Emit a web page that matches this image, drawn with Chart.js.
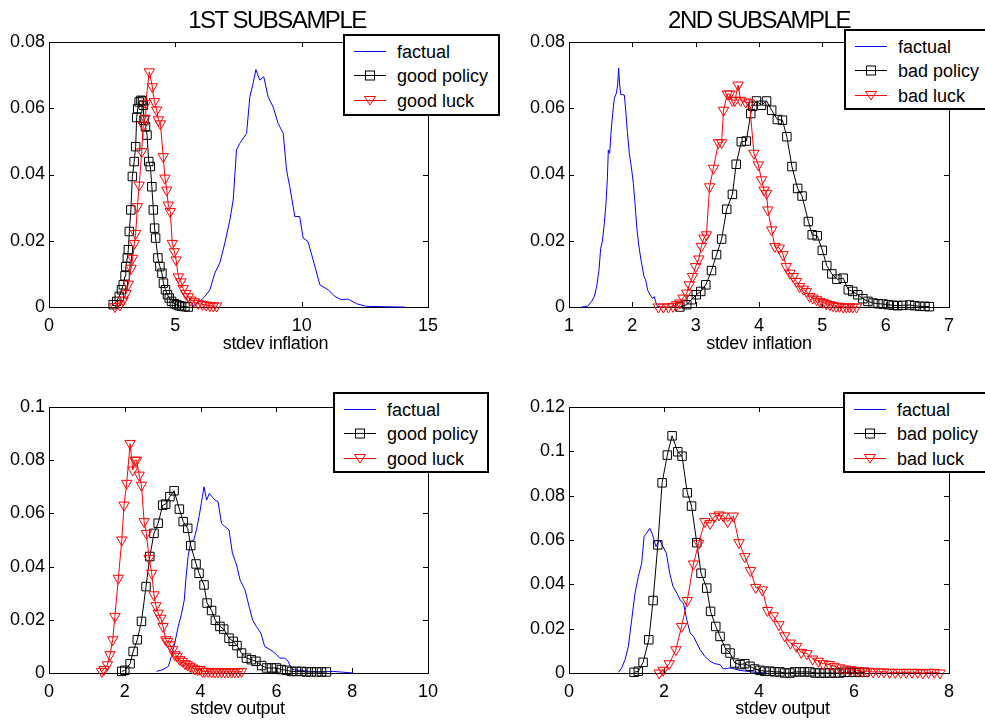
<!DOCTYPE html>
<html>
<head>
<meta charset="utf-8">
<script src="https://cdn.jsdelivr.net/npm/chart.js@4.4.1/dist/chart.umd.min.js"></script>
<style>
  body { margin: 0; background: #fff; }
  #wrap { position: relative; width: 985px; height: 724px; overflow: hidden; background: #fff;
          font-family: "Liberation Sans", Arial, sans-serif; color: #000; }
  #wrap canvas { position: absolute; }
  .title { position: absolute; width: 300px; text-align: center; font-size: 24px; line-height: 28px; letter-spacing: -1.5px; white-space: nowrap; }
  .xlabel { position: absolute; width: 200px; text-align: center; font-size: 18px; line-height: 22px; letter-spacing: -0.3px; white-space: nowrap; }
  .legend { position: absolute; background: #fff; border: 2px solid #000; box-sizing: border-box; z-index: 2; }
  .legend .row { position: absolute; left: 0; height: 25px; line-height: 25px; font-size: 18px; white-space: nowrap; }
  .legend svg { position: absolute; left: 9px; top: 0; }
  .legend span { position: absolute; left: 52px; top: 0; }
</style>
</head>
<body>
<div id="wrap"></div>
<script>
// ---- labels ----
const titles = ['1ST SUBSAMPLE', '2ND SUBSAMPLE'];
const xLabels = ['stdev inflation', 'stdev inflation', 'stdev output', 'stdev output'];
const firstLegend = ['factual', 'good policy', 'good luck'];
const secondLegend = ['factual', 'bad policy', 'bad luck'];

// ---- ticks ----
const p1XTicks = [0, 5, 10, 15];
const p1YTicks = [0, 0.02, 0.04, 0.06, 0.08];
const p2XTicks = [1, 2, 3, 4, 5, 6, 7];
const p2YTicks = [0, 0.02, 0.04, 0.06, 0.08];
const p3XTicks = [0, 2, 4, 6, 8, 10];
const p3YTicks = [0, 0.02, 0.04, 0.06, 0.08, 0.1];
const p4XTicks = [0, 2, 4, 6, 8];
const p4YTicks = [0, 0.02, 0.04, 0.06, 0.08, 0.1, 0.12];

// ---- panel 1: stdev inflation, 1st subsample ----
const p1FactualX = [5.71,5.97,6.17,6.37,6.56,6.76,6.96,7.16,7.29,7.42,7.55,7.82,7.95,8.08,8.19,8.34,8.50,8.67,8.87,9.07,9.27,9.40,9.53,9.73,9.92,10.06,10.25,10.45,10.72,11.05,11.31,11.57,11.84,12.17,12.56,13.22,13.88,14.08];
const p1FactualY = [0.0004,0.0017,0.0032,0.0052,0.0102,0.0133,0.0193,0.0263,0.0323,0.0474,0.0494,0.0524,0.0635,0.0675,0.0717,0.0685,0.0695,0.0635,0.0604,0.0554,0.0524,0.0414,0.0363,0.0273,0.0273,0.0208,0.0198,0.0143,0.0067,0.0052,0.0032,0.0022,0.0024,0.0010,0.0002,0.0001,0,0];
const p1PolicyX = [2.54,2.68,2.78,2.87,2.94,3.01,3.04,3.10,3.14,3.18,3.24,3.30,3.37,3.43,3.47,3.51,3.57,3.64,3.70,3.73,3.76,3.82,3.88,3.95,4.01,4.07,4.13,4.18,4.22,4.31,4.39,4.47,4.53,4.61,4.69,4.76,4.85,4.96,5.05,5.15,5.25,5.38,5.51];
const p1PolicyY = [0.0007,0.0017,0.0032,0.0052,0.0067,0.0094,0.0122,0.0148,0.0173,0.0228,0.0293,0.0394,0.0439,0.0484,0.0572,0.0599,0.0619,0.0624,0.0622,0.0609,0.0564,0.0544,0.0519,0.0439,0.0424,0.0363,0.0293,0.0238,0.0208,0.0148,0.0122,0.0102,0.0072,0.0052,0.0037,0.0027,0.0017,0.0010,0.0007,0.0004,0.0002,0.0001,0];
const p1LuckX = [2.61,2.81,2.94,3.05,3.14,3.25,3.31,3.38,3.43,3.50,3.57,3.67,3.73,3.80,3.83,3.97,4.09,4.17,4.26,4.33,4.41,4.52,4.59,4.66,4.72,4.80,4.88,4.96,5.03,5.12,5.22,5.31,5.41,5.51,5.62,5.75,5.91,6.07,6.22,6.37,6.50,6.63];
const p1LuckY = [0.0001,0.0006,0.0021,0.0041,0.0069,0.0117,0.0147,0.0192,0.0222,0.0303,0.0368,0.0469,0.0549,0.0570,0.0615,0.0710,0.0665,0.0620,0.0595,0.0565,0.0553,0.0454,0.0389,0.0353,0.0308,0.0288,0.0192,0.0167,0.0142,0.0091,0.0076,0.0056,0.0041,0.0031,0.0021,0.0016,0.0011,0.0008,0.0006,0.0004,0.0003,0.0003];

// ---- panel 2: stdev inflation, 2nd subsample ----
const p2FactualX = [1.20,1.295,1.358,1.40,1.437,1.474,1.50,1.526,1.558,1.584,1.605,1.621,1.642,1.663,1.69,1.716,1.747,1.768,1.784,1.80,1.816,1.874,1.895,1.921,1.953,1.99,2.016,2.042,2.074,2.105,2.137,2.184,2.21,2.242,2.284,2.316,2.347,2.368,2.40,2.437];
const p2FactualY = [0,0.0002,0.0017,0.0032,0.0062,0.0112,0.0177,0.0197,0.0253,0.0313,0.0384,0.0474,0.0464,0.0525,0.0585,0.0630,0.0645,0.0670,0.0721,0.0670,0.0642,0.0640,0.0595,0.0530,0.0464,0.0414,0.0373,0.0313,0.0233,0.0182,0.0142,0.0092,0.0082,0.0051,0.0036,0.0026,0.0031,0.0016,0.0001,0];
const p2PolicyX = [2.75,2.86,2.93,3.01,3.08,3.16,3.25,3.33,3.41,3.49,3.58,3.64,3.72,3.80,3.87,3.90,3.96,4.04,4.12,4.20,4.29,4.37,4.44,4.52,4.61,4.68,4.78,4.84,4.92,5.00,5.07,5.15,5.23,5.33,5.41,5.48,5.56,5.64,5.72,5.80,5.88,5.96,6.04,6.12,6.19,6.27,6.38,6.46,6.54,6.62,6.69];
const p2PolicyY = [0,0.0007,0.0022,0.0037,0.0047,0.0067,0.0110,0.0158,0.0205,0.0295,0.0340,0.0431,0.0499,0.0501,0.0584,0.0606,0.0622,0.0609,0.0622,0.0594,0.0566,0.0564,0.0514,0.0424,0.0358,0.0335,0.0258,0.0218,0.0215,0.0171,0.0125,0.0100,0.0084,0.0087,0.0052,0.0047,0.0037,0.0025,0.0017,0.0012,0.0010,0.0009,0.0007,0.0005,0.0004,0.0005,0.0006,0.0004,0.0002,0.0002,0.0001];
const p2LuckX = [2.41,2.49,2.57,2.64,2.70,2.75,2.80,2.86,2.90,2.95,3.00,3.05,3.09,3.13,3.17,3.22,3.28,3.36,3.41,3.44,3.50,3.54,3.58,3.62,3.67,3.71,3.79,3.85,3.92,3.99,4.04,4.08,4.12,4.14,4.20,4.25,4.32,4.38,4.43,4.49,4.54,4.59,4.64,4.70,4.75,4.80,4.85,4.91,4.96,5.01,5.06,5.12,5.17,5.22,5.27,5.33,5.38,5.43,5.48,5.54];
const p2LuckY = [0,0,0,0.0002,0.0007,0.0012,0.0027,0.0042,0.0067,0.0092,0.0122,0.0145,0.0183,0.0208,0.0218,0.0363,0.0419,0.0496,0.0496,0.0594,0.0643,0.0643,0.0624,0.0624,0.0670,0.0624,0.0619,0.0616,0.0464,0.0429,0.0384,0.0353,0.0343,0.0293,0.0233,0.0183,0.0178,0.0158,0.0122,0.0102,0.0092,0.0077,0.0062,0.0054,0.0047,0.0032,0.0027,0.0022,0.0017,0.0014,0.0010,0.0007,0.0004,0.0002,0.0002,0,0,0,0,0];

// ---- panel 3: stdev output, 1st subsample ----
const p3FactualX = [2.84,3.01,3.15,3.23,3.32,3.41,3.50,3.57,3.61,3.67,3.74,3.82,3.89,3.96,4.02,4.09,4.16,4.23,4.30,4.38,4.46,4.55,4.64,4.75,4.84,4.95,5.04,5.17,5.28,5.37,5.47,5.59,5.69,5.83,5.96,6.09,6.22,6.31,6.35,6.44,6.62,6.88,7.14,7.50,7.76,8.02];
const p3FactualY = [0.0006,0.0013,0.0025,0.0063,0.0113,0.0175,0.0225,0.0275,0.0350,0.0438,0.0494,0.0500,0.0538,0.0588,0.0638,0.0700,0.0650,0.0675,0.0663,0.0650,0.0644,0.0563,0.0550,0.0538,0.0450,0.0406,0.0350,0.0313,0.0250,0.0200,0.0175,0.0150,0.0100,0.0088,0.0075,0.0056,0.0056,0.0044,0.0031,0.0013,0.0010,0.0006,0.0004,0.0006,0.0003,0];
const p3PolicyX = [1.92,2.00,2.14,2.22,2.33,2.44,2.56,2.66,2.77,2.88,3.00,3.08,3.19,3.30,3.44,3.54,3.66,3.74,3.88,3.96,4.09,4.17,4.29,4.39,4.51,4.61,4.75,4.86,4.96,5.08,5.21,5.34,5.46,5.61,5.74,5.87,6.00,6.13,6.27,6.40,6.53,6.66,6.79,6.92,7.06,7.19,7.32];
const p3PolicyY = [0.0006,0.0010,0.0035,0.0081,0.0125,0.0194,0.0325,0.0438,0.0525,0.0563,0.0631,0.0635,0.0663,0.0685,0.0616,0.0569,0.0544,0.0479,0.0410,0.0375,0.0331,0.0263,0.0235,0.0198,0.0175,0.0165,0.0131,0.0119,0.0103,0.0075,0.0056,0.0050,0.0044,0.0028,0.0019,0.0019,0.0019,0.0013,0.0010,0.0006,0.0006,0.0006,0.0004,0.0004,0.0004,0.0004,0.0004];
const p3LuckX = [1.39,1.45,1.54,1.61,1.68,1.74,1.83,1.92,1.98,2.05,2.14,2.21,2.27,2.31,2.38,2.44,2.51,2.57,2.64,2.71,2.77,2.82,2.88,2.95,3.01,3.08,3.13,3.19,3.26,3.32,3.38,3.45,3.52,3.59,3.65,3.72,3.79,3.85,3.92,3.98,4.05,4.11,4.20,4.29,4.38,4.46,4.55,4.64,4.73,4.82,4.90,4.99,5.08];
const p3LuckY = [0.0006,0.0013,0.0031,0.0069,0.0125,0.0213,0.0356,0.0500,0.0631,0.0713,0.0863,0.0763,0.0800,0.0800,0.0744,0.0706,0.0569,0.0525,0.0431,0.0375,0.0294,0.0253,0.0225,0.0206,0.0175,0.0125,0.0119,0.0106,0.0088,0.0069,0.0063,0.0050,0.0044,0.0035,0.0031,0.0025,0.0019,0.0015,0.0013,0.0013,0.0006,0.0006,0.0006,0.0004,0.0004,0.0004,0.0004,0.0004,0.0004,0.0004,0.0004,0.0004,0.0006];

// ---- panel 4: stdev output, 2nd subsample ----
const p4FactualX = [1.04,1.11,1.18,1.25,1.32,1.39,1.46,1.53,1.58,1.63,1.70,1.76,1.83,1.91,1.98,2.05,2.12,2.19,2.27,2.34,2.41,2.48,2.55,2.62,2.69,2.76,2.86,2.97,3.07,3.18,3.25,3.39,3.49,3.60,3.74,3.95,4.16];
const p4FactualY = [0.0003,0.0023,0.0060,0.0120,0.0240,0.0360,0.0435,0.0495,0.0615,0.0630,0.0653,0.0623,0.0570,0.0600,0.0570,0.0540,0.0450,0.0390,0.0360,0.0330,0.0315,0.0240,0.0180,0.0165,0.0135,0.0105,0.0075,0.0053,0.0042,0.0038,0.0018,0.0023,0.0018,0.0012,0.0008,0.0003,0];
const p4PolicyX = [1.37,1.46,1.56,1.68,1.77,1.87,1.96,2.07,2.17,2.29,2.38,2.49,2.58,2.69,2.78,2.90,2.98,3.09,3.18,3.30,3.39,3.49,3.60,3.70,3.81,3.91,4.02,4.12,4.23,4.33,4.44,4.54,4.65,4.75,4.86,4.96,5.07,5.18,5.28,5.39,5.49,5.60,5.70,5.81,5.91,6.02,6.12,6.23];
const p4PolicyY = [0.0003,0.0008,0.0048,0.0150,0.0327,0.0578,0.0858,0.0983,0.1070,0.0998,0.0978,0.0813,0.0753,0.0588,0.0450,0.0383,0.0278,0.0210,0.0165,0.0108,0.0090,0.0045,0.0038,0.0042,0.0030,0.0018,0.0012,0.0008,0.0008,0.0005,0.0005,0,0,0.0005,0.0005,0.0005,0.0005,0,0,0,0,0,0,0.0003,0.0003,0.0003,0.0003,0.0003];
const p4LuckX = [1.90,1.98,2.11,2.25,2.37,2.49,2.62,2.73,2.86,2.97,3.06,3.16,3.25,3.34,3.46,3.58,3.70,3.82,3.93,4.07,4.18,4.30,4.42,4.54,4.66,4.79,4.89,5.01,5.13,5.25,5.35,5.48,5.58,5.70,5.82,5.93,6.05,6.17,6.28,6.40,6.52,6.63,6.75,6.87,6.98,7.10,7.22,7.34,7.45,7.57,7.69,7.81];
const p4LuckY = [0,0.0012,0.0042,0.0105,0.0210,0.0327,0.0492,0.0585,0.0683,0.0675,0.0705,0.0713,0.0708,0.0683,0.0708,0.0588,0.0525,0.0462,0.0386,0.0375,0.0282,0.0258,0.0218,0.0168,0.0135,0.0120,0.0093,0.0087,0.0063,0.0053,0.0042,0.0038,0.0030,0.0023,0.0018,0.0015,0.0012,0.0008,0.0008,0.0005,0.0005,0.0005,0.0003,0.0003,0.0003,0.0003,0.0003,0.0003,0,0.0003,0.0003,0];

const wrap = document.getElementById('wrap');
const tickFont = { family: "'Liberation Sans', Arial, sans-serif", size: 18 };

// factual = plain blue line, policy = black squares, luck = red down triangles
const lineStyles = [
  { color: 'rgb(0,0,255)', pointStyle: 'circle', radius: 0, rotation: 0, order: 2 },
  { color: 'rgb(0,0,0)', pointStyle: 'rect', radius: 6, rotation: 0, order: 1 },
  { color: 'rgb(255,0,0)', pointStyle: 'triangle', radius: 6, rotation: 180, order: 0 }
];

// Matlab style box with inward ticks on all four sides
const framePlugin = {
  id: 'frame',
  beforeDatasetsDraw(chart) {
    const { ctx, chartArea: a, scales } = chart;
    const len = 5;
    ctx.save();
    ctx.strokeStyle = '#000';
    ctx.lineWidth = 1;
    ctx.strokeRect(a.left + 0.5, a.top + 0.5, a.right - a.left, a.bottom - a.top);
    ctx.beginPath();
    scales.x.ticks.forEach(t => {
      const px = Math.round(scales.x.getPixelForValue(t.value)) + 0.5;
      ctx.moveTo(px, a.bottom); ctx.lineTo(px, a.bottom - len);
      ctx.moveTo(px, a.top); ctx.lineTo(px, a.top + len);
    });
    scales.y.ticks.forEach(t => {
      const py = Math.round(scales.y.getPixelForValue(t.value)) + 0.5;
      ctx.moveTo(a.left, py); ctx.lineTo(a.left + len, py);
      ctx.moveTo(a.right, py); ctx.lineTo(a.right - len, py);
    });
    ctx.stroke();
    ctx.restore();
  }
};

function drawPanel(p) {
  const canvas = document.createElement('canvas');
  canvas.width = p.w;
  canvas.height = p.h;
  canvas.style.left = p.left + 'px';
  canvas.style.top = p.top + 'px';
  wrap.appendChild(canvas);

  const datasets = p.series.map((s, i) => {
    const st = lineStyles[i];
    return {
      label: p.legend[i],
      data: s[0].map((x, j) => ({ x: x, y: s[1][j] })),
      showLine: true,
      borderColor: st.color,
      borderWidth: 1,
      tension: 0,
      pointStyle: st.pointStyle,
      pointRadius: st.radius,
      pointRotation: st.rotation,
      pointBorderColor: st.color,
      pointBackgroundColor: 'rgba(0,0,0,0)',
      pointBorderWidth: 1,
      clip: false,
      order: st.order
    };
  });

  new Chart(canvas, {
    type: 'scatter',
    data: { datasets: datasets },
    options: {
      responsive: false,
      animation: false,
      events: [],
      layout: { padding: { top: p.padTop, right: p.padRight, left: 0, bottom: 0 } },
      plugins: { legend: { display: false }, tooltip: { enabled: false } },
      scales: {
        x: {
          type: 'linear',
          min: p.xTicks[0],
          max: p.xTicks[p.xTicks.length - 1],
          grid: { display: false, drawTicks: false },
          border: { display: false },
          afterBuildTicks: sc => { sc.ticks = p.xTicks.map(v => ({ value: v })); },
          afterFit: sc => { sc.height = p.xHeight; },
          ticks: { padding: 8, color: '#000', font: tickFont, maxRotation: 0, autoSkip: false, callback: v => String(v) }
        },
        y: {
          type: 'linear',
          min: p.yTicks[0],
          max: p.yTicks[p.yTicks.length - 1],
          grid: { display: false, drawTicks: false },
          border: { display: false },
          afterBuildTicks: sc => { sc.ticks = p.yTicks.map(v => ({ value: v })); },
          afterFit: sc => { sc.width = p.yWidth; },
          ticks: { padding: 4, color: '#000', font: tickFont, autoSkip: false, callback: v => String(v) }
        }
      }
    },
    plugins: [framePlugin]
  });

  addLegend(p.legend, p.legendBox);
}

function legendIcon(i) {
  const st = lineStyles[i];
  let svg = '<svg width="32" height="25"><line x1="0" y1="11.5" x2="32" y2="11.5" stroke="' + st.color + '" stroke-width="1"/>';
  if (st.pointStyle === 'rect') {
    svg += '<rect x="11.5" y="7" width="9" height="9" fill="none" stroke="' + st.color + '"/>';
  } else if (st.pointStyle === 'triangle') {
    svg += '<polygon points="10.5,7.5 21.5,7.5 16,16" fill="none" stroke="' + st.color + '"/>';
  }
  return svg + '</svg>';
}

function addLegend(names, box) {
  const div = document.createElement('div');
  div.className = 'legend';
  div.style.left = box[0] + 'px';
  div.style.top = box[1] + 'px';
  div.style.width = box[2] + 'px';
  div.style.height = box[3] + 'px';
  names.forEach((name, i) => {
    const row = document.createElement('div');
    row.className = 'row';
    row.style.top = (3.5 + 24.5 * i) + 'px';
    row.innerHTML = legendIcon(i) + '<span>' + name + '</span>';
    div.appendChild(row);
  });
  wrap.appendChild(div);
}

function addText(cls, text, cx, top) {
  const div = document.createElement('div');
  div.className = cls;
  div.textContent = text;
  const w = cls === 'title' ? 300 : 200;
  div.style.left = (cx - w / 2) + 'px';
  div.style.top = top + 'px';
  wrap.appendChild(div);
}

drawPanel({ left: 0, top: 0, w: 492, h: 360, padTop: 42, padRight: 64, yWidth: 49, xHeight: 53,
  xTicks: p1XTicks, yTicks: p1YTicks, legend: firstLegend, legendBox: [343, 34, 157, 82],
  series: [[p1FactualX, p1FactualY], [p1PolicyX, p1PolicyY], [p1LuckX, p1LuckY]] });
drawPanel({ left: 492, top: 0, w: 493, h: 360, padTop: 42, padRight: 36, yWidth: 77, xHeight: 53,
  xTicks: p2XTicks, yTicks: p2YTicks, legend: secondLegend, legendBox: [844, 29, 145, 81],
  series: [[p2FactualX, p2FactualY], [p2PolicyX, p2PolicyY], [p2LuckX, p2LuckY]] });
drawPanel({ left: 0, top: 360, w: 492, h: 364, padTop: 47, padRight: 64, yWidth: 49, xHeight: 51,
  xTicks: p3XTicks, yTicks: p3YTicks, legend: firstLegend, legendBox: [333, 392, 156, 81],
  series: [[p3FactualX, p3FactualY], [p3PolicyX, p3PolicyY], [p3LuckX, p3LuckY]] });
drawPanel({ left: 492, top: 360, w: 493, h: 364, padTop: 47, padRight: 36, yWidth: 77, xHeight: 51,
  xTicks: p4XTicks, yTicks: p4YTicks, legend: secondLegend, legendBox: [843, 392, 145, 81],
  series: [[p4FactualX, p4FactualY], [p4PolicyX, p4PolicyY], [p4LuckX, p4LuckY]] });

addText('title', titles[0], 277, 5.5);
addText('title', titles[1], 759, 5.5);
addText('xlabel', xLabels[0], 275.5, 332);
addText('xlabel', xLabels[1], 759, 332);
addText('xlabel', xLabels[2], 237.5, 697);
addText('xlabel', xLabels[3], 782.5, 697);
</script>
</body>
</html>
